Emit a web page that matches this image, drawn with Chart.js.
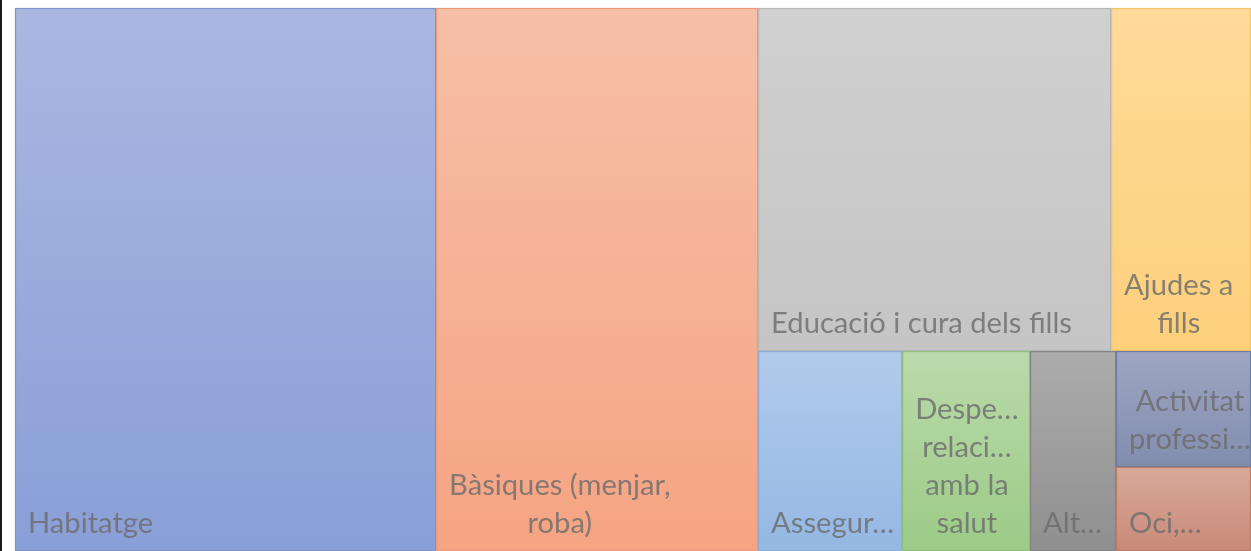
<!DOCTYPE html>
<html>
<head>
<meta charset="utf-8">
<script src="https://cdn.jsdelivr.net/npm/chart.js@4.4.1/dist/chart.umd.min.js"></script>
<style>
    html, body { margin: 0; padding: 0; background: #ffffff; overflow: hidden; }
    #wrap { position: relative; width: 1251px; height: 551px; }
    #frame { position: absolute; left: 0; top: 0; width: 2px; height: 551px; background: #1a1a1a; }
    canvas { display: block; }
</style>
</head>
<body>
<div id="wrap">
    <canvas id="treemap" width="1251" height="551"></canvas>
    <div id="frame"></div>
</div>
<script>
//---------------------------------------------
// DATA
//---------------------------------------------
const categories = [
    "Habitatge",
    "Bàsiques (menjar, roba)",
    "Educació i cura dels fills",
    "Ajudes a fills",
    "Assegurances",
    "Despeses relacionades amb la salut",
    "Altres",
    "Activitat professional",
    "Oci, viatges"
];
// share of total spending (%)
const values = [34.06, 26.05, 18.04, 7.15, 4.29, 3.81, 2.56, 2.33, 1.69];
// label lines as shown in each cell
const labelLines = [
    ["Habitatge"],
    ["Bàsiques (menjar,", "roba)"],
    ["Educació i cura dels fills"],
    ["Ajudes a", "fills"],
    ["Assegur…"],
    ["Despe…", "relaci…", "amb la", "salut"],
    ["Alt…"],
    ["Activitat", "professi…"],
    ["Oci,…"]
];
const topColors    = ["#aab7e1", "#f7bfa8", "#d0d0d0", "#ffda99", "#b2cbec", "#badaab", "#acacac", "#9ea6c1", "#d8a99a"];
const bottomColors = ["#899fd7", "#f5a482", "#c5c5c5", "#fdd07b", "#94b8e3", "#9ccb87", "#8f8f8f", "#828cae", "#c98a78"];
const edgeColors   = ["#8094c9", "#e89a7a", "#b8b8b8", "#efc36c", "#8aaed8", "#8fbf7b", "#858585", "#6f7a9e", "#b97c6b"];

// how the cells are nested: "h" = side by side, "v" = stacked
const tree = ["h", 0, 1, ["v", ["h", 2, 3], ["h", 4, 5, 6, ["v", 7, 8]]]];

//---------------------------------------------
// SLICE-AND-DICE LAYOUT (in data units 0..100)
//---------------------------------------------
function nodeSum(node) {
    if (typeof node === "number") return values[node];
    return node.slice(1).reduce((s, n) => s + nodeSum(n), 0);
}

function layout(node, x0, y0, x1, y1, out) {
    if (typeof node === "number") {
        out.push({ i: node, x0, y0, x1, y1 });
        return out;
    }
    const dir = node[0];
    const kids = node.slice(1);
    const total = nodeSum(node);
    let pos = dir === "h" ? x0 : y0;
    kids.forEach(k => {
        const span = (dir === "h" ? (x1 - x0) : (y1 - y0)) * nodeSum(k) / total;
        if (dir === "h") layout(k, pos, y0, pos + span, y1, out);
        else layout(k, x0, pos, x1, pos + span, out);
        pos += span;
    });
    return out;
}

const cells = layout(tree, 0, 0, 100, 100, []);

//---------------------------------------------
// TREEMAP DRAW PLUGIN
//---------------------------------------------
const treemapPlugin = {
    id: "treemapCells",
    afterDatasetsDraw(chart) {
        const ctx = chart.ctx;
        const xs = chart.scales.x, ys = chart.scales.y;

        // fit the font to roughly match the original text width
        ctx.font = "30px Lato";
        const fontSize = 30 * 301 / ctx.measureText("Educació i cura dels fills").width;
        const lineH = 38;

        cells.forEach(c => {
            const left = xs.getPixelForValue(c.x0), right = xs.getPixelForValue(c.x1);
            const top = ys.getPixelForValue(c.y0), bottom = ys.getPixelForValue(c.y1);
            const w = right - left, h = bottom - top;

            const grad = ctx.createLinearGradient(0, top, 0, bottom);
            grad.addColorStop(0, topColors[c.i]);
            grad.addColorStop(1, bottomColors[c.i]);
            ctx.fillStyle = grad;
            ctx.fillRect(left, top, w, h);
            ctx.strokeStyle = edgeColors[c.i];
            ctx.lineWidth = 1.2;
            ctx.strokeRect(left + 0.5, top + 0.5, w - 1, h - 1);

            // label: lines centred in a block at the bottom-left of the cell
            ctx.save();
            ctx.beginPath();
            ctx.rect(left, top, w, h);
            ctx.clip();
            ctx.font = fontSize + "px Lato";
            ctx.fillStyle = "rgba(108,108,108,0.82)";
            ctx.textBaseline = "middle";
            ctx.textAlign = "center";
            const lines = labelLines[c.i];
            const blockW = Math.max(...lines.map(l => ctx.measureText(l).width));
            const cx = left + 13 + blockW / 2;
            lines.forEach((line, k) => {
                const y = bottom - 27 - (lines.length - 1 - k) * lineH;
                ctx.fillText(line, cx, y);
            });
            ctx.restore();
        });
    }
};

//---------------------------------------------
// CHART
//---------------------------------------------
new Chart(document.getElementById("treemap"), {
    type: "scatter",
    data: { datasets: [{ label: "Despesa", data: [] }] },
    options: {
        responsive: false,
        animation: false,
        layout: { padding: { left: 15, top: 8, right: 0, bottom: 0 } },
        plugins: { legend: { display: false }, tooltip: { enabled: false } },
        scales: {
            x: { type: "linear", min: 0, max: 100, display: false },
            y: { type: "linear", min: 0, max: 100, reverse: true, display: false }
        }
    },
    plugins: [treemapPlugin]
});
</script>
</body>
</html>
